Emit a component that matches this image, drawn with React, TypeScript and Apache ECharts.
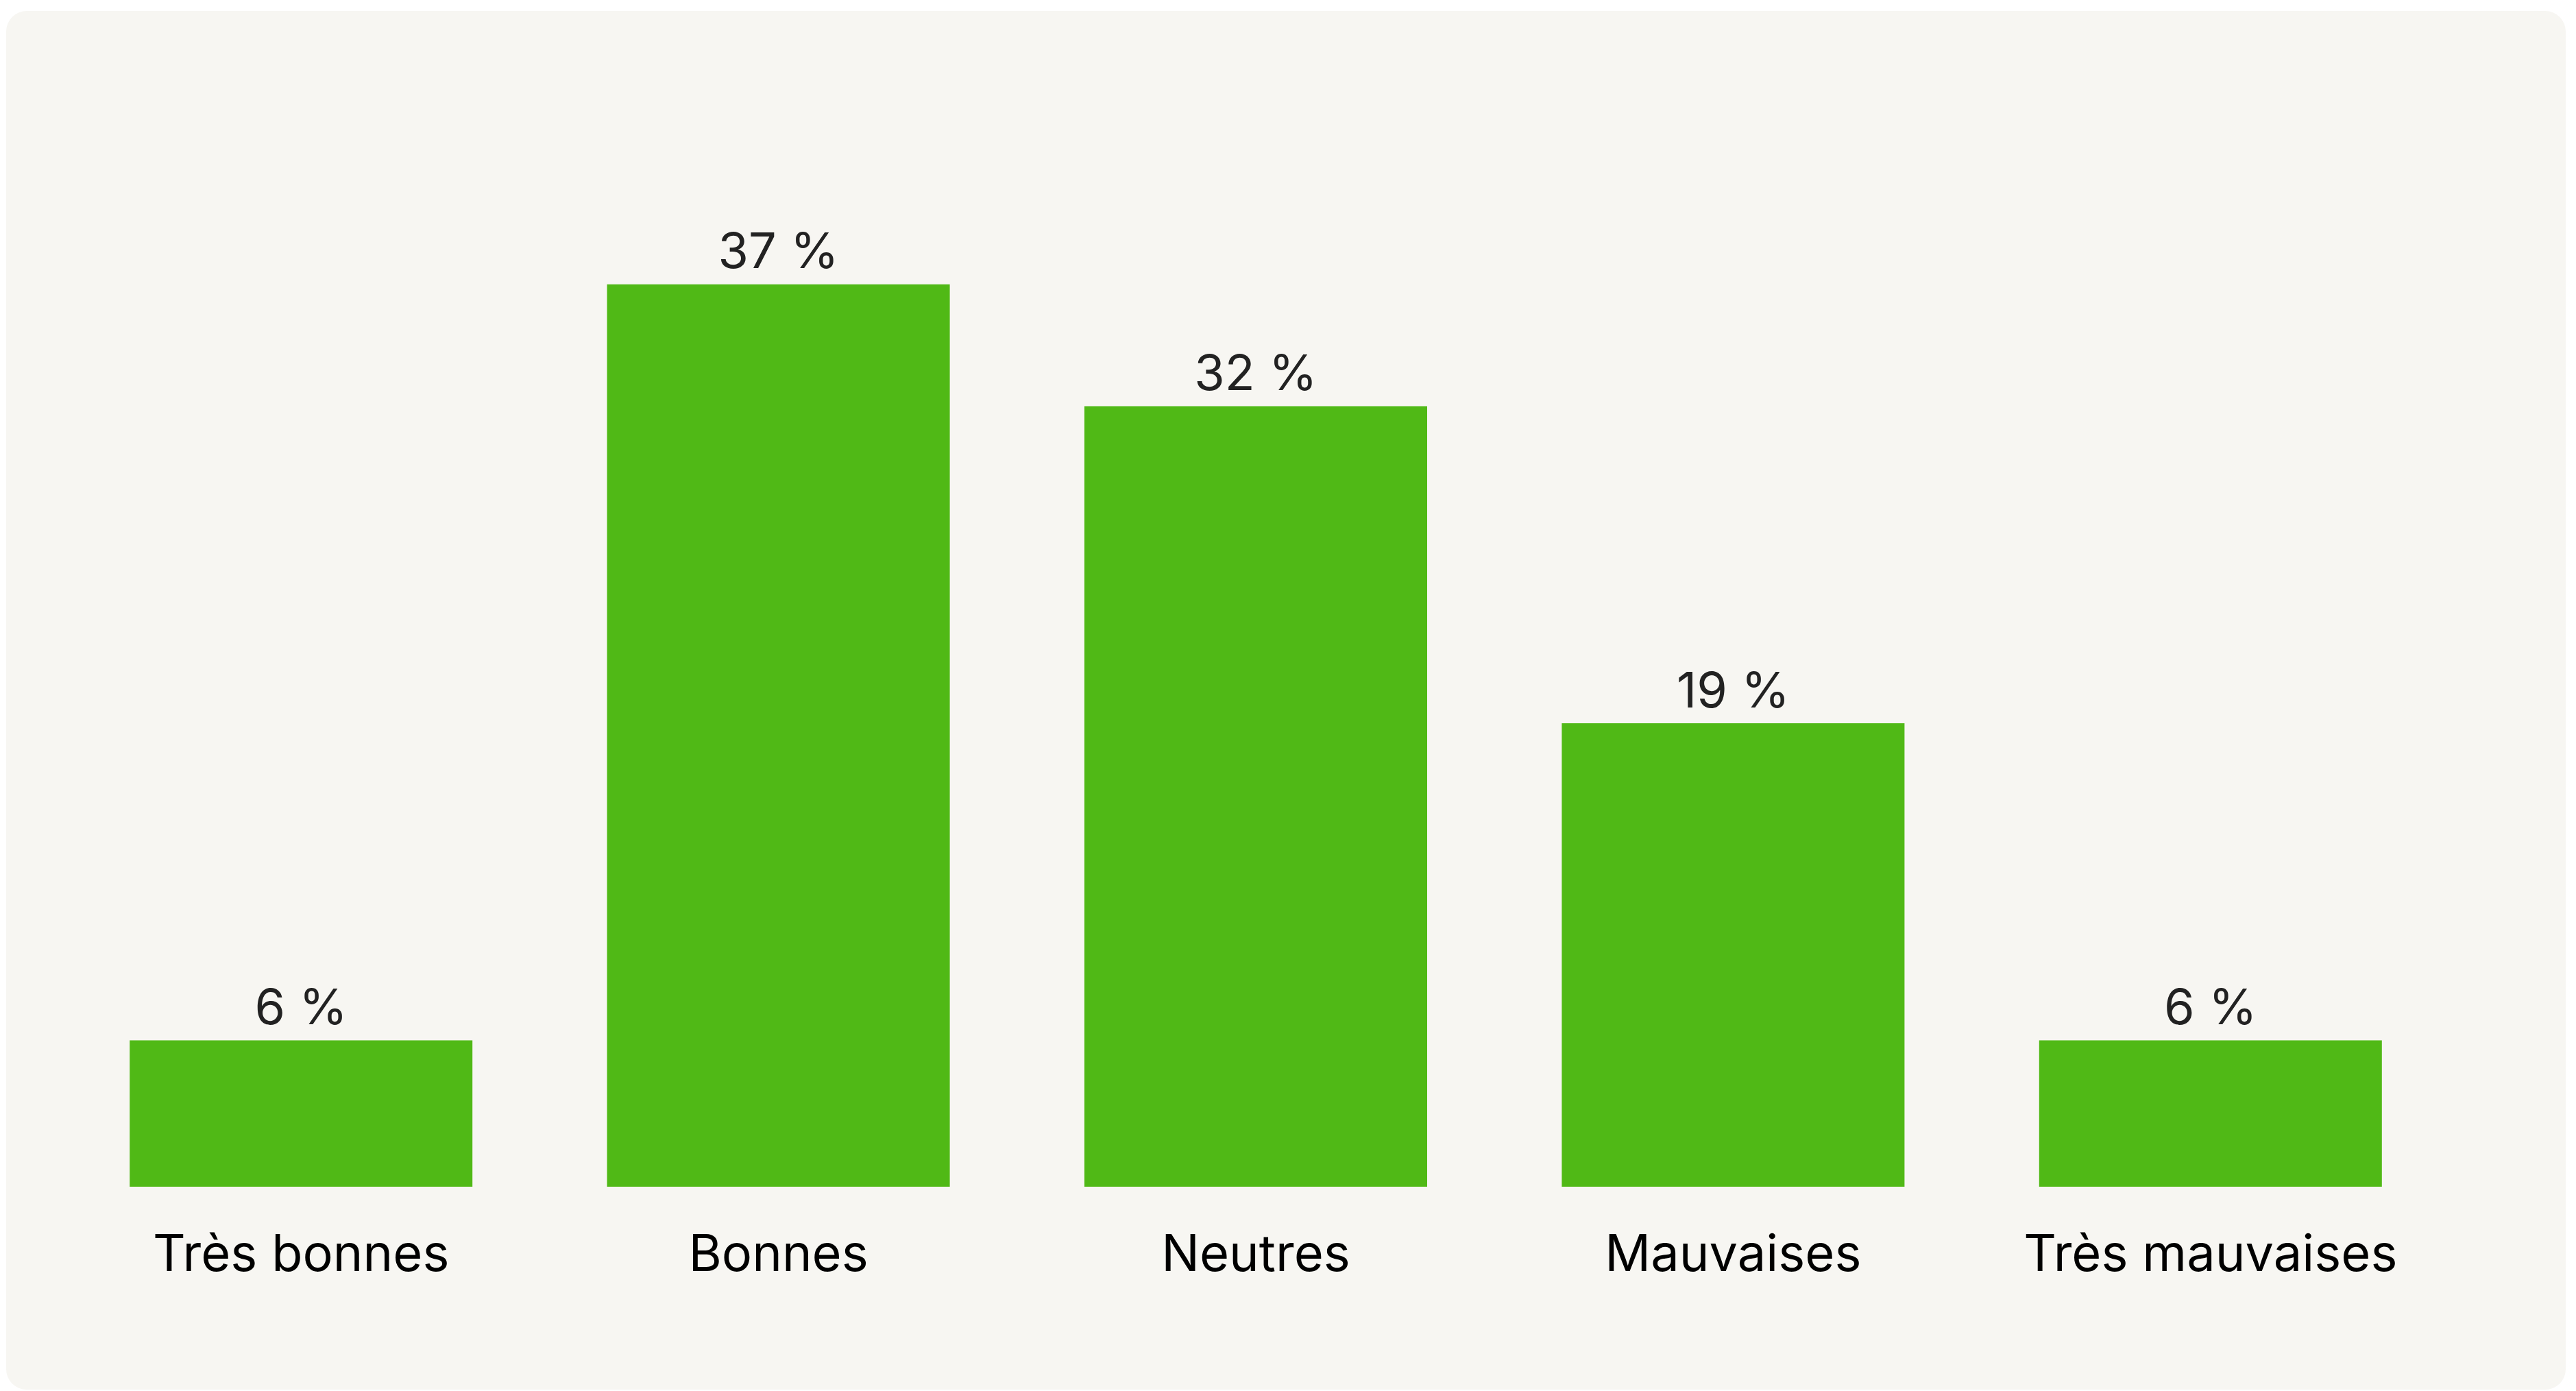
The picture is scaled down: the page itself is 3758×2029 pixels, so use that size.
import React, { useEffect, useRef } from "react";
import * as echarts from "echarts";

const categories = ["Très bonnes", "Bonnes", "Neutres", "Mauvaises", "Très mauvaises"];
const values = [6, 37, 32, 19, 6];

export default function App() {
  const ref = useRef<HTMLDivElement>(null);
  useEffect(() => {
    if (!ref.current) return;
    const chart = echarts.init(ref.current, null, { renderer: "svg" });
    chart.setOption({
      animation: false,
      backgroundColor: "#ffffff",
      graphic: [
        {
          type: "rect",
          z: -10,
          silent: true,
          shape: { x: 9, y: 16, width: 3734, height: 2011, r: 30 },
          style: { fill: "#F7F6F2" },
        },
      ],
      grid: { left: 91, right: 185, top: 308, bottom: 298, containLabel: false },
      xAxis: {
        type: "category",
        data: categories,
        axisLine: { show: false },
        axisTick: { show: false },
        axisLabel: {
          interval: 0,
          fontFamily: "Inter",
          fontSize: 74,
          color: "#000000",
          margin: 59,
        },
      },
      yAxis: {
        type: "value",
        min: 0,
        max: 40,
        show: false,
        splitLine: { show: false },
      },
      series: [
        {
          type: "bar",
          data: values,
          barWidth: 500,
          itemStyle: { color: "#50B916" },
          label: {
            show: true,
            position: "top",
            distance: 14,
            fontFamily: "Inter",
            fontSize: 72,
            color: "#222222",
            formatter: (p: any) => `${p.value} %`,
          },
        },
      ],
    });
    return () => chart.dispose();
  }, []);
  return (
    <div
      ref={ref}
      style={{ position: "fixed", left: 0, top: 0, width: 3758, height: 2029 }}
    />
  );
}
